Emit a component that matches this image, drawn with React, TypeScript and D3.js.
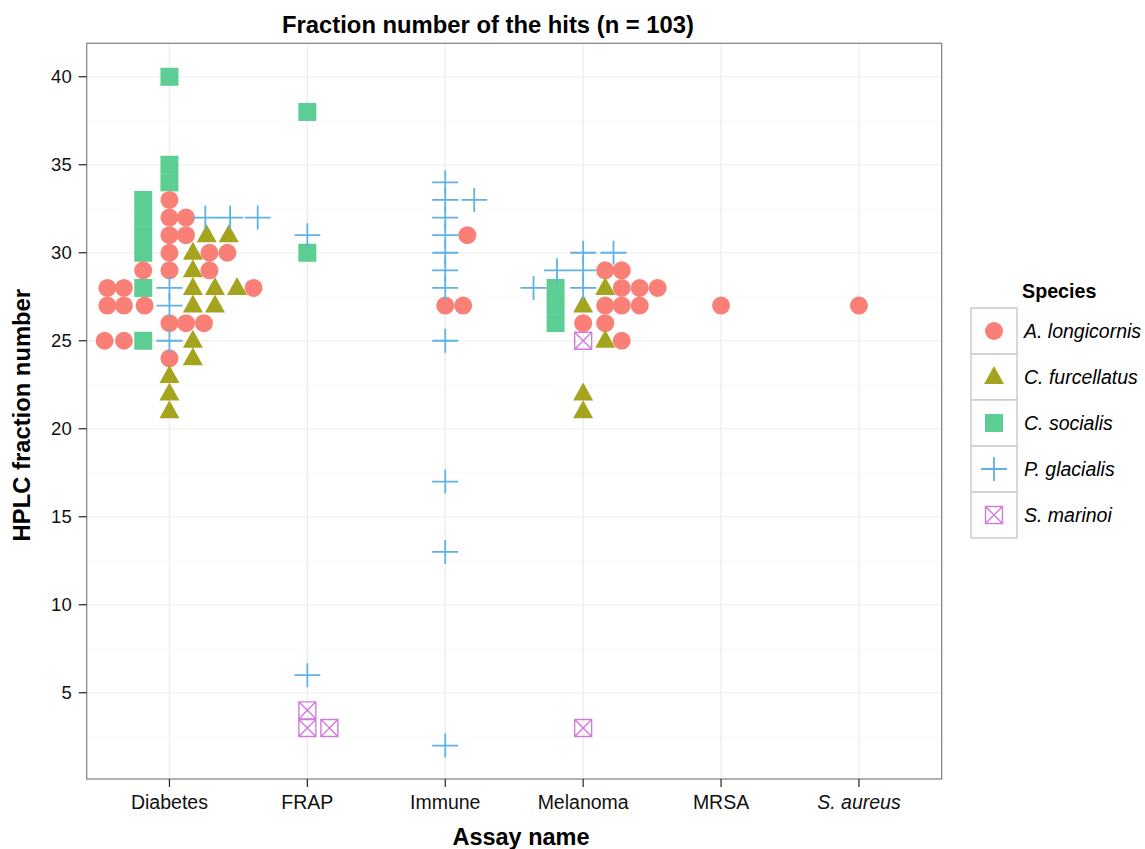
import * as d3 from "d3";

type Pt = [string, number, number]; // assay, HPLC fraction, dodge offset (in category steps)

const assays = ["Diabetes", "FRAP", "Immune", "Melanoma", "MRSA", "S. aureus"];
const speciesNames = ["A. longicornis", "C. furcellatus", "C. socialis", "P. glacialis", "S. marinoi"];
const speciesColors = ["#FA7F76", "#A4A41F", "#5CCE93", "#5FB2E2", "#CF7CDB"];
const yTicks = [5, 10, 15, 20, 25, 30, 35, 40];
const yMinor = [2.5, 7.5, 12.5, 17.5, 22.5, 27.5, 32.5, 37.5];

const longicornis: Pt[] = [
  ["Diabetes", 33, 0], ["Diabetes", 32, 0], ["Diabetes", 32, 0.12], ["Diabetes", 31, 0], ["Diabetes", 31, 0.12],
  ["Diabetes", 30, 0], ["Diabetes", 30, 0.29], ["Diabetes", 30, 0.42], ["Diabetes", 29, -0.19], ["Diabetes", 29, 0],
  ["Diabetes", 29, 0.29], ["Diabetes", 28, -0.45], ["Diabetes", 28, -0.33], ["Diabetes", 28, 0.61],
  ["Diabetes", 27, -0.45], ["Diabetes", 27, -0.33], ["Diabetes", 27, -0.18], ["Diabetes", 26, 0],
  ["Diabetes", 26, 0.12], ["Diabetes", 26, 0.25], ["Diabetes", 25, -0.47], ["Diabetes", 25, -0.33], ["Diabetes", 24, 0],
  ["Immune", 31, 0.16], ["Immune", 27, 0], ["Immune", 27, 0.13],
  ["Melanoma", 29, 0.16], ["Melanoma", 29, 0.28], ["Melanoma", 28, 0.28], ["Melanoma", 28, 0.41], ["Melanoma", 28, 0.54],
  ["Melanoma", 27, 0.16], ["Melanoma", 27, 0.28], ["Melanoma", 27, 0.41], ["Melanoma", 26, 0], ["Melanoma", 26, 0.16],
  ["Melanoma", 25, 0.28],
  ["MRSA", 27, 0], ["S. aureus", 27, 0],
];

const furcellatus: Pt[] = [
  ["Diabetes", 31, 0.27], ["Diabetes", 31, 0.43], ["Diabetes", 30, 0.17], ["Diabetes", 29, 0.17], ["Diabetes", 28, 0.17],
  ["Diabetes", 28, 0.33], ["Diabetes", 28, 0.49], ["Diabetes", 27, 0.17], ["Diabetes", 27, 0.33], ["Diabetes", 25, 0.17],
  ["Diabetes", 24, 0.17], ["Diabetes", 23, 0], ["Diabetes", 22, 0], ["Diabetes", 21, 0],
  ["Melanoma", 28, 0.16], ["Melanoma", 27, 0], ["Melanoma", 25, 0.16], ["Melanoma", 22, 0], ["Melanoma", 21, 0],
];

const socialis: Pt[] = [
  ["Diabetes", 40, 0], ["Diabetes", 35, 0], ["Diabetes", 34, 0], ["Diabetes", 33, -0.19], ["Diabetes", 32, -0.19],
  ["Diabetes", 31, -0.19], ["Diabetes", 30, -0.19], ["Diabetes", 28, -0.19], ["Diabetes", 25, -0.19],
  ["FRAP", 38, 0], ["FRAP", 30, 0],
  ["Melanoma", 28, -0.2], ["Melanoma", 27, -0.2], ["Melanoma", 26, -0.2],
];

const glacialis: Pt[] = [
  ["Diabetes", 32, 0.26], ["Diabetes", 32, 0.44], ["Diabetes", 32, 0.64], ["Diabetes", 28, 0], ["Diabetes", 27, 0],
  ["Diabetes", 25, 0],
  ["FRAP", 31, 0], ["FRAP", 6, 0],
  ["Immune", 34, 0], ["Immune", 33, 0], ["Immune", 32, 0], ["Immune", 31, 0], ["Immune", 30, 0], ["Immune", 29, 0],
  ["Immune", 28, 0], ["Immune", 25, 0], ["Immune", 17, 0], ["Immune", 13, 0], ["Immune", 2, 0], ["Immune", 33, 0.21],
  ["Melanoma", 30, 0], ["Melanoma", 29, 0], ["Melanoma", 28, 0], ["Melanoma", 30, 0.22], ["Melanoma", 29, -0.19],
  ["Melanoma", 28, -0.36],
];

const marinoi: Pt[] = [
  ["FRAP", 4, 0], ["FRAP", 3, 0], ["FRAP", 3, 0.16],
  ["Melanoma", 25, 0], ["Melanoma", 3, 0],
];

const seriesData = [longicornis, furcellatus, socialis, glacialis, marinoi];
const drawOrder = [2, 0, 1, 4, 3];

const font = "'Liberation Sans', Arial, Helvetica, sans-serif";

function Marker({ kind, color }: { kind: number; color: string }) {
  if (kind === 0) return <circle r={9} fill={color} />;
  if (kind === 1) return <path d="M0,-11L10,7L-10,7Z" fill={color} />;
  if (kind === 2) return <rect x={-9} y={-9} width={18} height={18} fill={color} />;
  if (kind === 3)
    return <path d="M-13,0H13M0,-12V12" stroke={color} strokeWidth={1.8} fill="none" />;
  return (
    <path
      d="M-8.5,-8.5H8.5V8.5H-8.5ZM-8.5,-8.5L8.5,8.5M8.5,-8.5L-8.5,8.5"
      stroke={color}
      strokeWidth={1.4}
      fill="none"
    />
  );
}

export default function App() {
  const width = 1145;
  const height = 849;
  const panel = { left: 86.7, right: 941.7, top: 43.3, bottom: 779 };

  const x = d3.scalePoint<string>().domain(assays).range([panel.left, panel.right]).padding(0.6);
  const y = d3.scaleLinear().domain([0.1, 41.9]).range([panel.bottom, panel.top]);
  const step = x.step();

  const legendX = 971;
  const legendY = 308;
  const keySize = 46;

  return (
    <div style={{ position: "fixed", left: 0, top: 0, width, height, overflow: "hidden" }}>
      <svg width={width} height={height} style={{ display: "block" }} fontFamily={font}>
        <rect width={width} height={height} fill="#fff" />
        <rect
          x={panel.left}
          y={panel.top}
          width={panel.right - panel.left}
          height={panel.bottom - panel.top}
          fill="#fff"
        />
        {yMinor.map((t) => (
          <line key={`m${t}`} x1={panel.left} x2={panel.right} y1={y(t)} y2={y(t)} stroke="#FAFAFA" strokeWidth={1} />
        ))}
        {yTicks.map((t) => (
          <line key={`g${t}`} x1={panel.left} x2={panel.right} y1={y(t)} y2={y(t)} stroke="#EBEBEB" strokeWidth={1.2} />
        ))}
        {assays.map((a) => (
          <line key={`v${a}`} x1={x(a)} x2={x(a)} y1={panel.top} y2={panel.bottom} stroke="#EBEBEB" strokeWidth={1.2} />
        ))}

        {drawOrder.map((s) => (
          <g key={speciesNames[s]}>
            {seriesData[s].map(([a, v, off], i) => (
              <g key={i} transform={`translate(${(x(a) ?? 0) + off * step},${y(v)})`}>
                <Marker kind={s} color={speciesColors[s]} />
              </g>
            ))}
          </g>
        ))}

        <rect
          x={panel.left}
          y={panel.top}
          width={panel.right - panel.left}
          height={panel.bottom - panel.top}
          fill="none"
          stroke="#7F7F7F"
          strokeWidth={1.2}
        />

        {yTicks.map((t) => (
          <g key={`yt${t}`}>
            <line x1={panel.left - 8} x2={panel.left} y1={y(t)} y2={y(t)} stroke="#222" strokeWidth={1.2} />
            <text x={panel.left - 15} y={y(t) + 6.5} textAnchor="end" fontSize={18.5} fill="#111">
              {t}
            </text>
          </g>
        ))}
        {assays.map((a) => (
          <g key={`xt${a}`}>
            <line x1={x(a)} x2={x(a)} y1={panel.bottom} y2={panel.bottom + 8} stroke="#222" strokeWidth={1.2} />
            <text
              x={x(a)}
              y={809}
              textAnchor="middle"
              fontSize={19.5}
              fill="#111"
              fontStyle={a === "S. aureus" ? "italic" : "normal"}
            >
              {a}
            </text>
          </g>
        ))}

        <text x={488} y={33} textAnchor="middle" fontSize={23.8} fontWeight="bold">
          Fraction number of the hits (n = 103)
        </text>
        <text x={521} y={845} textAnchor="middle" fontSize={23.5} fontWeight="bold">
          Assay name
        </text>
        <text
          transform={`translate(30, ${(panel.top + panel.bottom) / 2 + 4}) rotate(-90)`}
          textAnchor="middle"
          fontSize={23.8}
          fontWeight="bold"
        >
          HPLC fraction number
        </text>

        <text x={1022} y={298} fontSize={19.7} fontWeight="bold">
          Species
        </text>
        {speciesNames.map((name, i) => (
          <g key={name} transform={`translate(${legendX},${legendY + i * keySize})`}>
            <rect x={0} y={0} width={keySize} height={keySize} fill="#fff" stroke="#CCCCCC" strokeWidth={1.5} />
            <g transform={`translate(${keySize / 2},${keySize / 2})`}>
              <Marker kind={i} color={speciesColors[i]} />
            </g>
            <text x={53} y={keySize / 2 + 6.5} fontSize={19.5} fontStyle="italic">
              {name}
            </text>
          </g>
        ))}
      </svg>
    </div>
  );
}
